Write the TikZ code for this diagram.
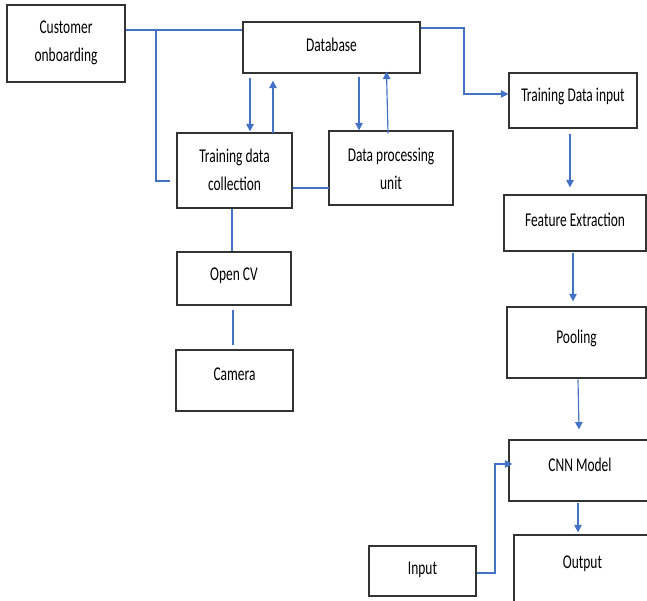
\documentclass[tikz,border=0pt]{standalone}
\usepackage{fontspec}
\setmainfont{Carlito}[FakeStretch=0.69]
\usetikzlibrary{arrows.meta,calc}
\definecolor{lineblue}{HTML}{4472C4}
\definecolor{boxline}{HTML}{333333}
\tikzset{
  box/.style={draw=boxline, line width=1.2pt, rectangle, inner sep=0pt},
  txt/.style={inner sep=0pt, align=center, font=\fontsize{19.5}{28}\selectfont},
  conn/.style={draw=lineblue, line width=1.15pt},
  arr/.style={conn, -{Triangle[length=7.5pt,width=7.5pt]}}
}
\begin{document}
\begin{tikzpicture}[x=1pt,y=-1pt]
\useasboundingbox (0,0) rectangle (647,600);
\clip (0,0) rectangle (647,600);
\fill[white] (0,0) rectangle (647,600);
% boxes
\node[box, minimum width=118pt, minimum height=77pt] (cust) at (66,43.5) {};
\node[box, minimum width=177pt, minimum height=51pt] (db) at (331.5,47.5) {};
\node[box, minimum width=115pt, minimum height=75pt] (tdc) at (234.5,170.5) {};
\node[box, minimum width=124pt, minimum height=74pt] (dpu) at (391,168) {};
\node[box, minimum width=128pt, minimum height=55pt] (tdi) at (573,100.5) {};
\node[box, minimum width=142pt, minimum height=56pt] (fe) at (575,223) {};
\node[box, minimum width=139pt, minimum height=71pt] (pool) at (576.5,342.5) {};
\node[box, minimum width=142pt, minimum height=61pt] (cnn) at (580,470.5) {};
\node[box, minimum width=137pt, minimum height=90pt] (out) at (582.5,580) {};
\node[box, minimum width=107pt, minimum height=50pt] (inp) at (422.5,571) {};
\node[box, minimum width=114pt, minimum height=53pt] (ocv) at (234,278.5) {};
\node[box, minimum width=117pt, minimum height=61pt] (cam) at (234.5,380.5) {};
% texts
\node[txt] (custt) at (66,43) {Customer\\onboarding};
\node[txt] (dbt) at (331.5,45) {Database};
\node[txt] (tdct) at (234.5,170) {Training data\\collection};
\node[txt] (dput) at (391,169) {Data processing\\unit};
\node[txt] (tdit) at (573,96.5) {Training Data input};
\node[txt] (fet) at (575,219.5) {Feature Extraction};
\node[txt] (poolt) at (576.5,338) {Pooling};
\node[txt] (cnnt) at (580,465) {CNN Model};
\node[txt] (outt) at (582.5,564) {Output};
\node[txt] (inpt) at (422.5,569.5) {Input};
\node[txt] (ocvt) at (234,276) {Open CV};
\node[txt] (camt) at (234.5,374) {Camera};
% connectors
\draw[conn] (cust.east |- 0,30) -- (db.west |- 0,30);
\draw[conn, line width=2.4pt] (142,30) -- (156,30);
\draw[conn] (156,30) |- ($(tdc.west |- 0,181)+(-6,0)$);
\draw[arr] ($(db.south -| 250,0)+(0,4)$) -- ($(tdc.north -| 250,0)+(0,-1)$);
\draw[arr] ($(tdc.north -| 273,0)+(0,1)$) -- ($(db.south -| 273,0)+(0,7)$);
\draw[arr] ($(db.south -| 359,0)+(0,3)$) -- (dpu.north -| 359,0);
\draw[arr] ($(dpu.north -| 388,0)+(0,3)$) -- ($(db.south -| 386.5,0)+(0,-2)$);
\draw[conn] (tdc.east |- 0,188) -- ($(dpu.west |- 0,188)+(1,0)$);
\draw[arr] (db.east |- 0,28) -- (464,28) |- (tdi.west |- 0,94);
\draw[arr] ($(tdi.south -| 570,0)+(0,5)$) -- ($(fe.north -| 570,0)+(0,-7)$);
\draw[arr] ($(fe.south -| 573,0)+(0,1)$) -- ($(pool.north -| 573,0)+(0,-5)$);
\draw[arr] ($(pool.south -| 578,0)+(0,1)$) -- ($(cnn.north -| 579,0)+(0,-10)$);
\draw[arr] ($(cnn.south -| 578,0)+(0,1)$) -- ($(out.north -| 578,0)+(0,-2)$);
\draw[arr] (inp.east |- 0,573) -- (495,573) |- ($(cnn.west |- 0,464)+(4,0)$);
\draw[conn] (tdc.south -| 232,0) -- (ocv.north -| 232,0);
\draw[conn] ($(ocv.south -| 233,0)+(0,4)$) -- ($(cam.north -| 233,0)+(0,-4)$);
\end{tikzpicture}
\end{document}
